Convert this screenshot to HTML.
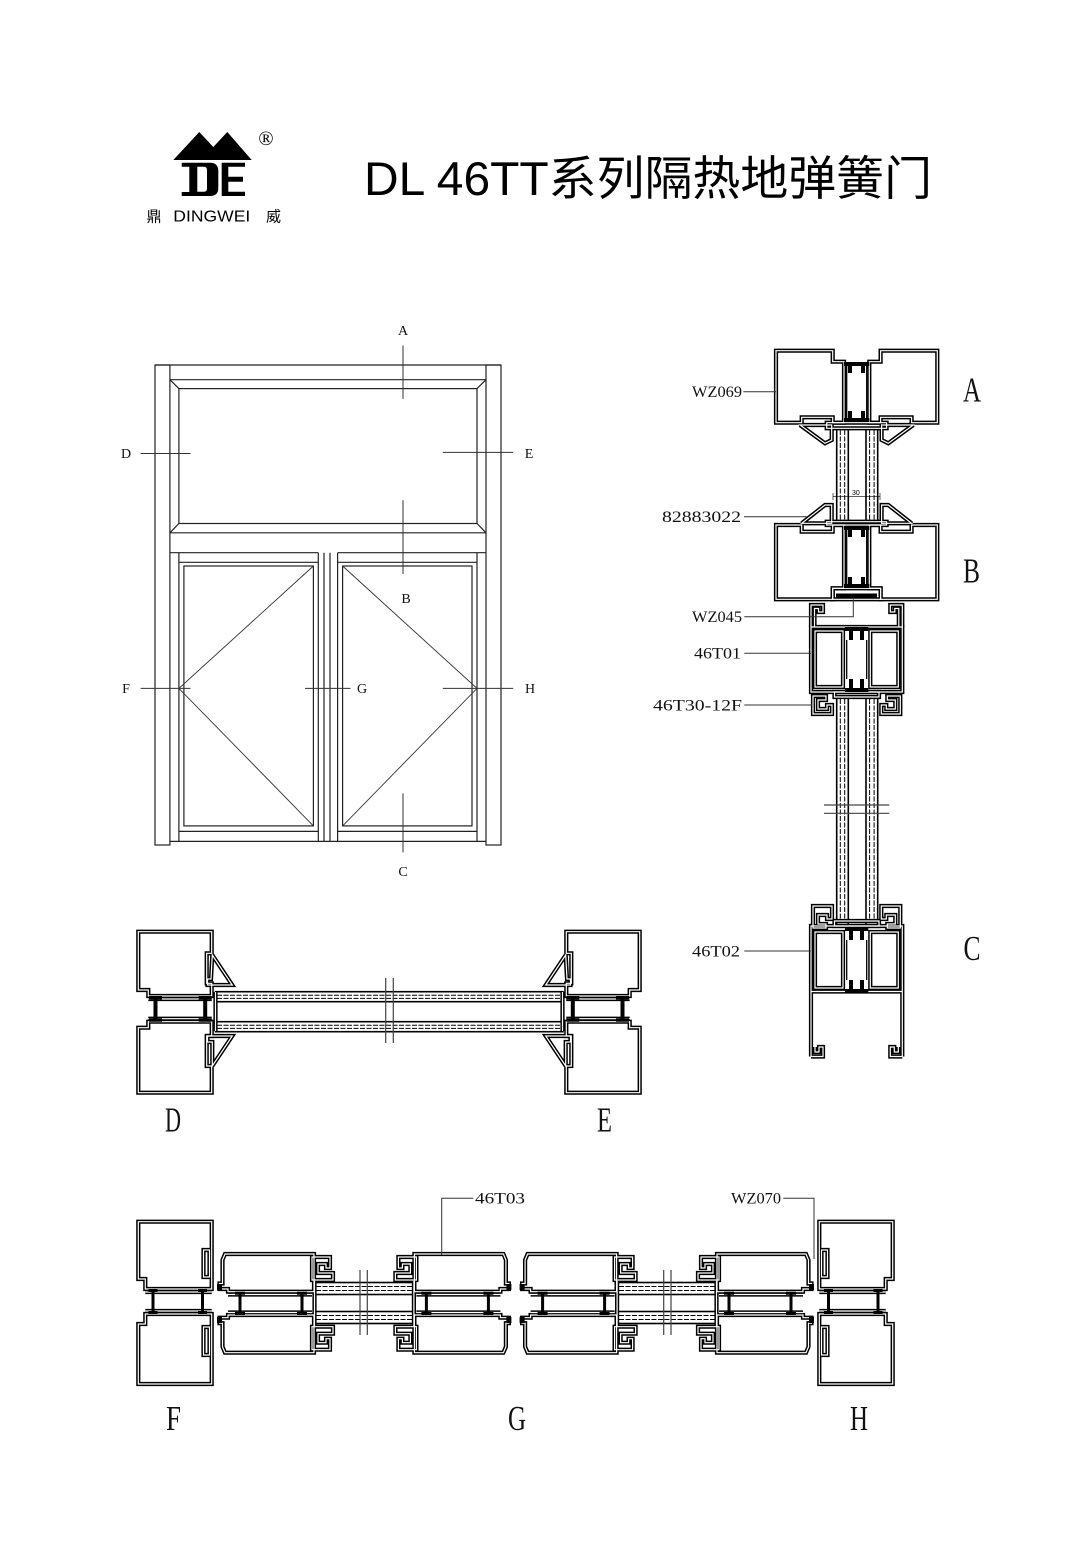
<!DOCTYPE html>
<html><head><meta charset="utf-8">
<style>
html,body{margin:0;padding:0;background:#fff;}
svg{display:block;}
.t{fill:none;stroke:#222;stroke-width:1.2}
.t2{fill:none;stroke:#333;stroke-width:0.9}
.sl{fill:none;stroke:#333;stroke-width:1}
.pb{fill:none;stroke:#000;stroke-width:4.2;stroke-linejoin:miter;stroke-miterlimit:3}
.pw{fill:none;stroke:#fff;stroke-width:1.2}
.k{fill:#000}
.th{fill:none;stroke:#000;stroke-width:1.3}
.ld{fill:none;stroke:#333;stroke-width:1}
.gl{fill:#fff;stroke:#000;stroke-width:1.6}
.gd{fill:none;stroke:#000;stroke-width:1;stroke-dasharray:5 1.5}
.br{fill:none;stroke:#444;stroke-width:1.2}
.lb{font-family:"Liberation Serif",serif;font-size:16px;fill:#111}
.big{font-family:"Liberation Serif",serif;font-size:35px;fill:#111}
.sm{font-family:"Liberation Serif",serif;font-size:14px;fill:#111}
</style></head><body>
<svg width="1090" height="1542" viewBox="0 0 1090 1542" xmlns="http://www.w3.org/2000/svg">
<rect x="0" y="0" width="1090" height="1542" fill="#fff"/>

<!-- LOGO -->
<polygon points="173.3,160 199.3,132 213.3,147 227.3,132 251.7,160" fill="#000"/>
<path fill="#000" fill-rule="evenodd" d="M181.7,162.7 H210 Q218.3,162.7 218.3,171 V188 Q218.3,196 210,196 H181.7 V192 H189.3 V166.7 H181.7 Z M197.3,166.7 H204 Q207,166.7 207,170 V188.5 Q207,191.7 204,191.7 H197.3 Z"/>
<path fill="#000" d="M221.7,162.7 H245 V166.7 H228.3 V176.7 H243 V181.7 H228.3 V191.7 H245 V196 H221.7 Z"/>
<text x="266" y="145" font-size="20" text-anchor="middle" font-family="Liberation Serif, serif">®</text>
<text x="146.5" y="221.7" font-size="15" font-family="'Liberation Sans','Noto Sans CJK SC',sans-serif">鼎</text>
<text x="173.3" y="221.7" font-size="16" textLength="77" lengthAdjust="spacingAndGlyphs" font-family="'Liberation Sans',sans-serif">DINGWEI</text>
<text x="266" y="221.7" font-size="15" font-family="'Liberation Sans','Noto Sans CJK SC',sans-serif">威</text>

<!-- TITLE -->
<text x="364" y="195" font-size="47" textLength="568" lengthAdjust="spacingAndGlyphs" font-family="'Liberation Sans','Noto Sans CJK SC',sans-serif" fill="#000">DL 46TT系列隔热地弹簧门</text>

<!-- ELEVATION -->
<g class="t">
<path d="M155,365 H501"/>
<rect x="155" y="365" width="14.9" height="480"/>
<rect x="486" y="365" width="15" height="480"/>
<path d="M169.9,379.7 H486"/>
<path d="M169.9,532.8 H486"/>
<rect x="178.9" y="388.6" width="298.1" height="134.9"/>
<path d="M169.9,379.7 L178.9,388.6 M486,379.7 L477,388.6 M169.9,532.8 L178.9,523.5 M486,532.8 L477,523.5"/>
<path d="M169.9,552.7 H318.3 M337.6,552.7 H486"/>
<path d="M178.9,552.7 V841.4 M477,552.7 V841.4"/>
<path d="M318.3,552.7 V841.4 M324,552.7 V841.4 M330,552.7 V841.4 M337.6,552.7 V841.4"/>
<path d="M169.9,841.4 H486"/>
<path d="M178.9,562.3 H318.3 M178.9,831.4 H318.3 M337.6,562.3 H477 M337.6,831.4 H477"/>
<rect x="183.9" y="566" width="129.5" height="259.9"/>
<rect x="342.6" y="566" width="129.4" height="259.9"/>
</g>
<path class="t2" d="M313.4,566 L178.9,688.4 L313.4,825.9 M342.6,566 L477,688.4 L342.6,825.9"/>
<path class="sl" d="M403,345.5 V398.9 M403,500.3 V574 M403,793.4 V852.4 M140.7,453.5 H190.5 M442.8,452.4 H513.2 M140.7,688.4 H190.5 M305,688.4 H350.5 M442.8,688.4 H513.2"/>
<g class="sm" text-anchor="middle">
<text x="403" y="335">A</text>
<text x="406" y="603">B</text>
<text x="403" y="876">C</text>
<text x="126" y="458">D</text>
<text x="529" y="458">E</text>
<text x="126" y="693">F</text>
<text x="362" y="693">G</text>
<text x="530" y="693">H</text>
</g>

<defs>
<g id="ab">
<path d="M776,350.7 H832.7 V361.7 H844 V422.7 H832.7 V417.3 H801.7 V422.7 H776 Z"/>
<path d="M937.3,350.7 H880.6 V361.7 H869.3 V422.7 H880.6 V417.3 H911.6 V422.7 H937.3 Z"/>
<path d="M826.7,422.7 H886.6 V428.3 H826.7 Z"/>
<path d="M800,425 H831.7 V440 L825,443.3 Z"/>
<path d="M913.3,425 H881.6 V440 L888.3,443.3 Z"/>
<path d="M801.7,523.3 L825,505 H831.7 V523.3 Z"/>
<path d="M911.6,523.3 L888.3,505 H881.6 V523.3 Z"/>
<path d="M826.7,521.7 H886.6 V525 H826.7 Z"/>
<path d="M776,525 H801.7 V531.7 H832.7 V525 H844 V588.3 H832.7 V599.3 H776 Z"/>
<path d="M937.3,525 H911.6 V531.7 H880.6 V525 H869.3 V588.3 H880.6 V599.3 H937.3 Z"/>
<path d="M832.7,588.3 H880.6 V599.3 H832.7 Z"/>
</g>
<g id="cs">
<path d="M811,627 V605 H823 V612 H818.5 V608.5 H814.5 V627"/>
<path d="M902.3,627 V605 H890.3 V612 H894.8 V608.5 H898.8 V627"/>
<path d="M811,627 H902.3 V692 H811 Z"/>
<path d="M815,631 H843 V687 H815 Z"/>
<path d="M870.3,631 H898.3 V687 H870.3 Z"/>
<path d="M834.5,692 H879 V697 H834.5 Z"/>
<path d="M813,696 H826 V700 H818 V709 H827 V705 H832 V714 H813 Z"/>
<path d="M900.3,696 H887.3 V700 H895.3 V709 H886.3 V705 H881.3 V714 H900.3 Z"/>
<path d="M813,928 H826 V924 H818 V915 H827 V919 H832 V906 H813 Z"/>
<path d="M900.3,928 H887.3 V924 H895.3 V915 H886.3 V919 H881.3 V906 H900.3 Z"/>
<path d="M834.5,921 H879 V926 H834.5 Z"/>
<path d="M811,1056.5 V926 H902.3 V1056.5"/>
<path d="M811,991.5 H902.3"/>
<path d="M815,932 H843 V988 H815 Z"/>
<path d="M870.3,932 H898.3 V988 H870.3 Z"/>
<path d="M811,1056.5 H823 V1047 H819 V1052 H815 V1047"/>
<path d="M902.3,1056.5 H890.3 V1047 H894.3 V1052 H898.3 V1047"/>
</g>
<g id="dfr">
<path d="M138.3,931.7 H211.7 V953.3 H206.7 V983.3 H211.7 V996 H148.3 V990 H138.3 Z"/>
<path d="M138.3,1092.7 H211.7 V1066 H206.7 V1036 H211.7 V1021.7 H148.3 V1027.7 H138.3 Z"/>
<path d="M148.3,999 H211.7 M148.3,1018.7 H211.7"/>
<path d="M212.3,955 L232.3,985 H207.5 V979 H211 Z"/>
<path d="M207.5,1036 H232.3 L212.3,1066 V1042 H207.5 Z"/>
<path d="M215.5,992 V1031"/>
</g>
<g id="dh">
<use href="#dfr" class="pb"/><use href="#dfr" class="pw"/>
<path class="k" d="M149,996 h13 v3.5 h-4.5 v18.7 h4.5 v3.5 h-13 v-3.5 h4.5 v-18.7 h-4.5 z M198.7,996 h13 v3.5 h-4.5 v18.7 h4.5 v3.5 h-13 v-3.5 h4.5 v-18.7 h-4.5 z"/>
</g>
<g id="ffr">
<path d="M138.3,1221.7 H211.7 V1289 H145.3 V1279 H138.3 Z"/>
<path d="M138.3,1384 H211.7 V1314 H145.3 V1324 H138.3 Z"/>
<path d="M203.5,1250 H209.5 V1277 H203.5 Z"/>
<path d="M203.5,1327 H209.5 V1355 H203.5 Z"/>
<path d="M145.3,1292 H211.7 M145.3,1311 H211.7"/>
</g>
<g id="lf">
<path d="M225,1254 H314 V1291.7 H228 V1289 H219.5 V1283.5 H222.5 V1260 Z"/>
<path d="M225,1352.7 H314 V1315 H228 V1317.7 H219.5 V1323.2 H222.5 V1346.7 Z"/>
<path d="M228,1294.5 H312 M228,1312.5 H312"/>
<path d="M312,1257 H330 V1268 H326 V1264 H318 V1273 H333 V1280 H312 Z"/>
<path d="M312,1349.7 H330 V1338.7 H326 V1342.7 H318 V1333.7 H333 V1326.7 H312 Z"/>
<path d="M314.5,1281 V1326"/>
</g>
<g id="lfA">
<use href="#lf" class="pb"/><use href="#lf" class="pw"/>
<path class="k" d="M235,1291.7 h10 v3 h-3.5 v17.3 h3.5 v3 h-10 v-3 h3.5 v-17.3 h-3.5 z M297,1291.7 h10 v3 h-3.5 v17.3 h3.5 v3 h-10 v-3 h3.5 v-17.3 h-3.5 z M217,1284 h5 v6 h-5 z M217,1317 h5 v6 h-5 z"/>
</g>
<g id="fh">
<rect class="gl" x="315" y="1282.5" width="99" height="12"/>
<rect class="gl" x="315" y="1311.5" width="99" height="12"/>
<path class="gd" d="M316,1286.5 H413 M316,1290.5 H413 M316,1315.5 H413 M316,1319.5 H413"/>
<use href="#ffr" class="pb"/><use href="#ffr" class="pw"/>
<path class="k" d="M148.5,1289 h9 v3 h-3 v19 h3 v3 h-9 v-3 h3 v-19 h-3 z M198,1289 h9 v3 h-3 v19 h3 v3 h-9 v-3 h3 v-19 h-3 z"/>
<use href="#lfA"/>
<use href="#lfA" transform="translate(728.4,0) scale(-1,1)"/>
<path class="br" d="M360,1270 V1335 M367.3,1270 V1335"/>
</g>
</defs>

<!-- A/B SECTION -->
<rect class="gl" x="836.7" y="428.3" width="11.6" height="93.4"/>
<rect class="gl" x="866" y="428.3" width="11.7" height="93.4"/>
<path class="gd" d="M840.3,430 V520 M844.7,430 V520 M869.6,430 V520 M874.1,430 V520"/>
<use href="#ab" class="pb"/><use href="#ab" class="pw"/>
<path class="th" d="M846.7,364 V420 M866.7,364 V420 M846.7,530 V586 M866.7,530 V586"/>
<path class="k" d="M844,362 H869.3 V366 H865 V373 H861 V366 H852 V373 H848 V366 H844 Z M844,422 H869.3 V418 H865 V411 H861 V418 H852 V411 H848 V418 H844 Z M844,526 H869.3 V530 H865 V537 H861 V530 H852 V537 H848 V530 H844 Z M844,588 H869.3 V584 H865 V577 H861 V584 H852 V577 H848 V584 H844 Z"/>
<rect class="k" x="836" y="593.5" width="41" height="5"/>
<path fill="none" stroke="#000" stroke-width="0.6" d="M833,496.7 H880 M833,493 V500 M880,493 V500"/>
<text x="852" y="495" font-size="7" font-family="Liberation Sans, sans-serif">30</text>

<!-- C SECTION -->
<rect class="gl" x="836.7" y="697" width="11.6" height="228"/>
<rect class="gl" x="866" y="697" width="11.7" height="228"/>
<path class="gd" d="M840.3,699 V923 M844.7,699 V923 M869.6,699 V923 M874.1,699 V923"/>
<path class="br" d="M824,805 H889.3 M824,813.3 H889.3"/>
<use href="#cs" class="pb"/><use href="#cs" class="pw"/>
<path class="th" d="M846.7,640 V679 M866.7,640 V679 M846.7,940 V980 M866.7,940 V980"/>
<path class="k" d="M845,627 H868.3 V631 H864 V640 H860 V631 H853 V640 H849 V631 H845 Z M845,692 H868.3 V688 H864 V679 H860 V688 H853 V679 H849 V688 H845 Z M845,927 H868.3 V931 H864 V940 H860 V931 H853 V940 H849 V931 H845 Z M845,993 H868.3 V989 H864 V980 H860 V989 H853 V980 H849 V989 H845 Z"/>

<!-- A/B/C labels -->
<path class="ld" d="M743.3,391.7 H776 M744,516.7 H806.7 M744.3,616.7 H853.3 V599.3 M744.3,653.3 H811 M744.3,705 H812 M744.3,951 H811"/>
<text class="lb" x="692" y="397" textLength="50" lengthAdjust="spacingAndGlyphs">WZ069</text>
<text class="lb" x="662" y="522" textLength="79" lengthAdjust="spacingAndGlyphs">82883022</text>
<text class="lb" x="692" y="622" textLength="50" lengthAdjust="spacingAndGlyphs">WZ045</text>
<text class="lb" x="694" y="658.5" textLength="47" lengthAdjust="spacingAndGlyphs">46T01</text>
<text class="lb" x="653" y="710.5" textLength="89" lengthAdjust="spacingAndGlyphs">46T30-12F</text>
<text class="lb" x="692" y="956.5" textLength="48" lengthAdjust="spacingAndGlyphs">46T02</text>
<text class="big" x="963" y="401.7" textLength="18" lengthAdjust="spacingAndGlyphs">A</text>
<text class="big" x="963" y="582.7" textLength="17" lengthAdjust="spacingAndGlyphs">B</text>
<text class="big" x="963.5" y="960" textLength="17" lengthAdjust="spacingAndGlyphs">C</text>

<!-- D/E SECTION -->
<rect class="gl" x="215.5" y="991.7" width="347.5" height="10"/>
<rect class="gl" x="215.5" y="1021.7" width="347.5" height="10"/>
<path class="gd" d="M217,995.2 H562 M217,998.4 H562 M217,1025.2 H562 M217,1028.4 H562"/>
<path class="br" d="M385.7,978 V1043 M393.3,978 V1043"/>
<use href="#dh"/>
<use href="#dh" transform="translate(778,0) scale(-1,1)"/>
<text class="big" x="165" y="1131.7" textLength="16" lengthAdjust="spacingAndGlyphs">D</text>
<text class="big" x="597" y="1131.7" textLength="15" lengthAdjust="spacingAndGlyphs">E</text>

<!-- F/G/H SECTION -->
<use href="#fh"/>
<use href="#fh" transform="translate(1031,0) scale(-1,1)"/>
<path class="ld" d="M473.3,1198.3 H441.7 V1255 M783.3,1198.3 H814 V1259"/>
<text class="lb" x="475" y="1203.5" textLength="50" lengthAdjust="spacingAndGlyphs">46T03</text>
<text class="lb" x="731" y="1203.5" textLength="50" lengthAdjust="spacingAndGlyphs">WZ070</text>
<text class="big" x="166" y="1430" textLength="15" lengthAdjust="spacingAndGlyphs">F</text>
<text class="big" x="508" y="1430" textLength="18" lengthAdjust="spacingAndGlyphs">G</text>
<text class="big" x="850" y="1430" textLength="18" lengthAdjust="spacingAndGlyphs">H</text>
</svg>
</body></html>
